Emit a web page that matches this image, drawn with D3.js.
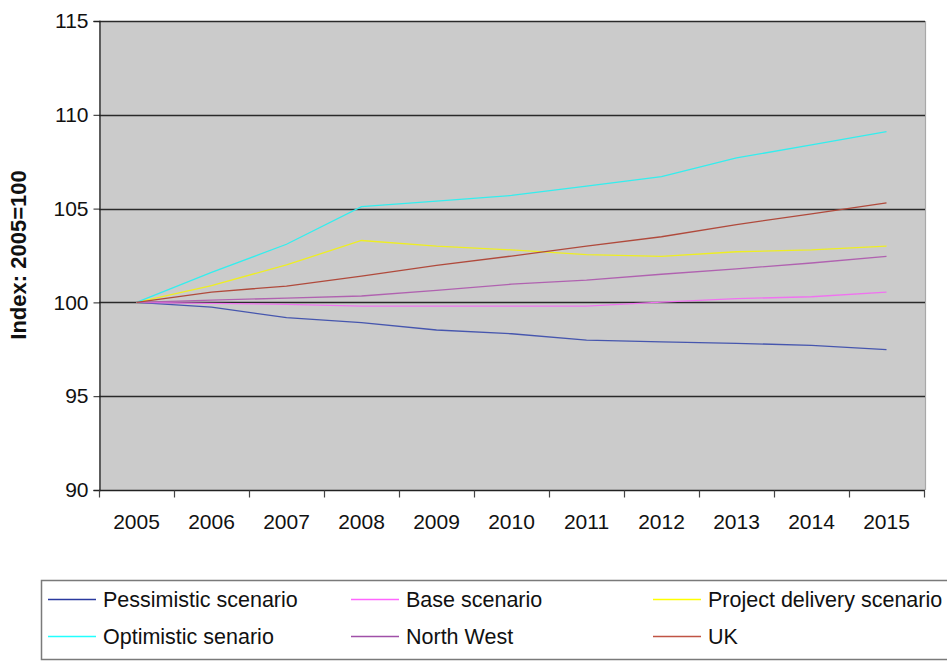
<!DOCTYPE html>
<html>
<head>
<meta charset="utf-8">
<script src="https://cdn.jsdelivr.net/npm/d3@7"></script>
<style>
  html, body { margin: 0; padding: 0; background: #ffffff; }
  svg { display: block; font-family: "Liberation Sans", Arial, sans-serif; }
</style>
</head>
<body>
<svg id="chart" width="947" height="661"></svg>
<script>
// Years on the horizontal axis
const years = ["2005","2006","2007","2008","2009","2010","2011","2012","2013","2014","2015"];

// Index values (2005 = 100) for each series
const pessimistic = [100, 99.75, 99.19, 98.92, 98.53, 98.33, 97.99, 97.90, 97.82, 97.71, 97.48];
const base        = [100, 99.95, 99.90, 99.80, 99.80, 99.80, 99.80, 100.02, 100.20, 100.30, 100.55];
const projectDel  = [100, 100.90, 102.00, 103.30, 103.00, 102.80, 102.55, 102.45, 102.70, 102.80, 103.00];
const optimistic  = [100, 101.60, 103.10, 105.10, 105.40, 105.70, 106.20, 106.70, 107.70, 108.40, 109.10];
const northWest   = [100, 100.12, 100.23, 100.34, 100.64, 100.97, 101.19, 101.50, 101.79, 102.10, 102.45];
const uk          = [100, 100.55, 100.87, 101.40, 101.97, 102.47, 103.00, 103.50, 104.15, 104.72, 105.30];

// Y axis ticks
const yTicks = [90, 95, 100, 105, 110, 115];

const seriesNames = ["Pessimistic scenario", "Base scenario", "Project delivery scenario",
                     "Optimistic senario", "North West", "UK"];
const seriesValues = [pessimistic, base, projectDel, optimistic, northWest, uk];
const lineColors   = ["#4656ae", "#f072f0", "#eeee22", "#33eeee", "#b062b0", "#b04a3c"];
const keyColors    = ["#2a3a9e", "#ff66ff", "#ffff00", "#22ffff", "#a050a8", "#c05444"];

const svg = d3.select("#chart");
const plot = { left: 99, right: 925, top: 21, bottom: 490 };

const x = d3.scaleBand().domain(years).range([plot.left, plot.right - 1]).padding(0);
const y = d3.scaleLinear().domain([90, 115]).range([plot.bottom, plot.top]);

// Plot background
svg.append("rect")
  .attr("x", plot.left).attr("y", plot.top)
  .attr("width", plot.right - plot.left).attr("height", plot.bottom - plot.top)
  .attr("fill", "#cbcbcb");

// Light right edge of the plot area
svg.append("line")
  .attr("x1", plot.right + 0.5).attr("x2", plot.right + 0.5)
  .attr("y1", plot.top).attr("y2", plot.bottom)
  .attr("stroke", "#a8a8a8").attr("stroke-width", 1.2);

// Horizontal gridlines
svg.append("g")
  .selectAll("line")
  .data(yTicks.filter(t => t > 90))
  .join("line")
  .attr("x1", plot.left).attr("x2", plot.right)
  .attr("y1", d => Math.round(y(d)) + 0.5).attr("y2", d => Math.round(y(d)) + 0.5)
  .attr("stroke", "#2a2a2a").attr("stroke-width", 1.3);

// Y axis
const yAxis = d3.axisLeft(y).tickValues(yTicks).tickSize(6).tickPadding(5);
const gy = svg.append("g").attr("transform", `translate(${plot.left + 0.5},0)`).call(yAxis);
gy.select(".domain").attr("stroke", "#222").attr("stroke-width", 1.3);
gy.selectAll(".tick line").attr("stroke", "#222");
gy.selectAll(".tick text").attr("font-size", 21).attr("fill", "#111")
  .attr("font-family", "'Liberation Sans', Arial, sans-serif");

// X axis: tick marks at category boundaries, labels centred in each band
const gx = svg.append("g").attr("transform", `translate(0,${plot.bottom + 0.5})`);
gx.append("line")
  .attr("x1", plot.left).attr("x2", plot.right)
  .attr("stroke", "#222").attr("stroke-width", 1.3);
const bounds = years.map(d => x(d)).concat([x(years[years.length - 1]) + x.bandwidth()]);
gx.selectAll("line.tk").data(bounds).join("line").attr("class", "tk")
  .attr("x1", d => Math.round(d) + 0.5).attr("x2", d => Math.round(d) + 0.5)
  .attr("y1", 0).attr("y2", 7)
  .attr("stroke", "#444").attr("stroke-width", 1.2);
gx.selectAll("text").data(years).join("text")
  .attr("x", d => x(d) + x.bandwidth() / 2)
  .attr("y", 38)
  .attr("text-anchor", "middle")
  .attr("font-size", 21).attr("fill", "#111")
  .text(d => d);

// Y axis title
svg.append("text")
  .attr("transform", "translate(26,255) rotate(-90)")
  .attr("text-anchor", "middle")
  .attr("font-size", 22).attr("font-weight", "bold").attr("fill", "#111")
  .text("Index: 2005=100");

// Series lines
const line = d3.line()
  .x((d, i) => x(years[i]) + x.bandwidth() / 2)
  .y(d => y(d));

svg.append("g")
  .selectAll("path")
  .data(seriesValues)
  .join("path")
  .attr("d", d => line(d))
  .attr("fill", "none")
  .attr("stroke", (d, i) => lineColors[i])
  .attr("stroke-width", 1.3);

// Legend
const legend = svg.append("g");
legend.append("rect")
  .attr("x", 41.5).attr("y", 580.5)
  .attr("width", 930).attr("height", 79)
  .attr("fill", "#ffffff").attr("stroke", "#7a7a7a").attr("stroke-width", 1.5);

const colX = [48, 351, 653];
const rowY = [599, 636];
const items = legend.selectAll("g.item")
  .data(seriesNames)
  .join("g").attr("class", "item")
  .attr("transform", (d, i) => `translate(${colX[i % 3]},${rowY[Math.floor(i / 3)]})`);
items.append("line")
  .attr("x1", 0).attr("x2", 48)
  .attr("y1", 0.5).attr("y2", 0.5)
  .attr("stroke", (d, i) => keyColors[i]).attr("stroke-width", 1.5);
items.append("text")
  .attr("x", 55).attr("y", 0)
  .attr("dy", "0.35em")
  .attr("font-size", 21.5).attr("fill", "#111")
  .text(d => d);
</script>
</body>
</html>
